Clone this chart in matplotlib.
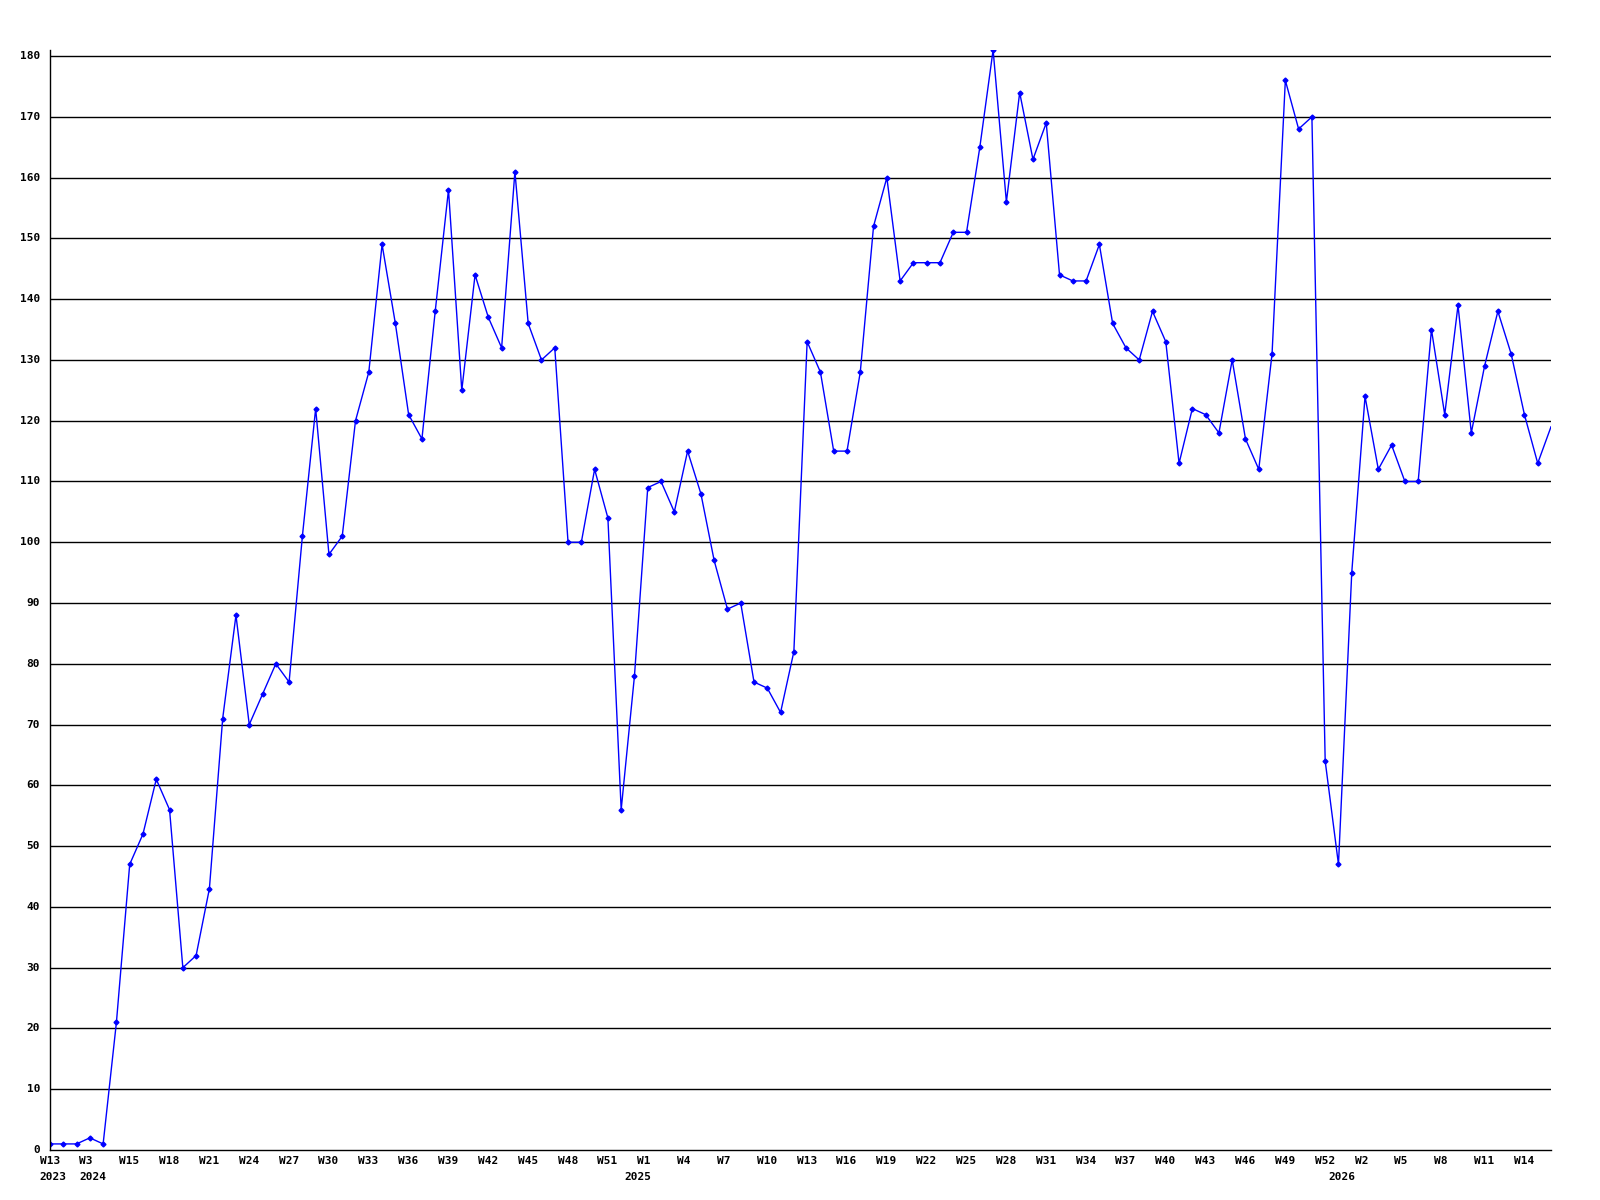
import numpy as np
from matplotlib import pyplot as plt
from matplotlib import transforms

# weekly values (last one is the running week)
values = [1, 1, 1, 2, 1, 21, 47, 52, 61, 56,
          30, 32, 43, 71, 88, 70, 75, 80, 77, 101,
          122, 98, 101, 120, 128, 149, 136, 121, 117, 138,
          158, 125, 144, 137, 132, 161, 136, 130, 132, 100,
          100, 112, 104, 56, 78, 109, 110, 105, 115, 108,
          97, 89, 90, 77, 76, 72, 82, 133, 128, 115,
          115, 128, 152, 160, 143, 146, 146, 146, 151, 151,
          165, 181, 156, 174, 163, 169, 144, 143, 143, 149,
          136, 132, 130, 138, 133, 113, 122, 121, 118, 130,
          117, 112, 131, 176, 168, 170, 64, 47, 95, 124,
          112, 116, 110, 110, 135, 121, 139, 118, 129, 138,
          131, 121, 113, 119]

week_pos = [0, 3, 6, 9, 12, 15, 18, 21, 24, 27, 30, 33, 36, 39, 42,
            45, 48, 51, 54, 57, 60, 63, 66, 69, 72, 75, 78, 81, 84, 87,
            90, 93, 96, 99, 102, 105, 108, 111]
week_labels = ['W13', 'W3', 'W15', 'W18', 'W21', 'W24', 'W27', 'W30',
               'W33', 'W36', 'W39', 'W42', 'W45', 'W48', 'W51',
               'W1', 'W4', 'W7', 'W10', 'W13', 'W16', 'W19', 'W22',
               'W25', 'W28', 'W31', 'W34', 'W37', 'W40', 'W43', 'W46',
               'W49', 'W52', 'W2', 'W5', 'W8', 'W11', 'W14']
year_pos = [0, 3, 44, 97]
year_labels = ['2023', '2024', '2025', '2026']
y_ticks = np.arange(0, 190, 10)

font = dict(family='DejaVu Sans Mono', weight='bold', size=8)

fig = plt.figure(figsize=(16, 12), dpi=100)
ax = fig.add_axes([50 / 1600, 50 / 1200, 1501 / 1600, 1100 / 1200])

x = np.arange(len(values))
ax.plot(x[:-1], values[:-1], color='#0000ff', lw=1.0, marker='D', ms=2.5,
        mec='#0000ff', mfc='#0000ff')
# running week: line only, no marker
ax.plot(x[-2:], values[-2:], color='#0000ff', lw=1.0)

for v in y_ticks[1:]:
    ax.axhline(v, color='black', lw=1.0, zorder=0)

ax.set_xlim(0, len(values) - 1)
ax.set_ylim(0, 181)
ax.set_xticks([])
ax.set_yticks([])
for side in ['top', 'right']:
    ax.spines[side].set_visible(False)
for side in ['left', 'bottom']:
    ax.spines[side].set_color('black')
    ax.spines[side].set_linewidth(1.0)

# labels sit left-aligned a bit before their point, like the original
xt = transforms.offset_copy(ax.get_xaxis_transform(), fig=fig, x=-10.5, y=0, units='dots')
for p, lab in zip(week_pos, week_labels):
    ax.text(p, -0.01, lab, transform=xt, ha='left', va='center', **font)
for p, lab in zip(year_pos, year_labels):
    ax.text(p, -0.0245, lab, transform=xt, ha='left', va='center', **font)

yt = transforms.offset_copy(ax.get_yaxis_transform(), fig=fig, x=-10, y=0, units='dots')
for v in y_ticks:
    ax.text(0, v, str(v), transform=yt, ha='right', va='center', **font)

fig.savefig('out.png', dpi=100, facecolor='white')
